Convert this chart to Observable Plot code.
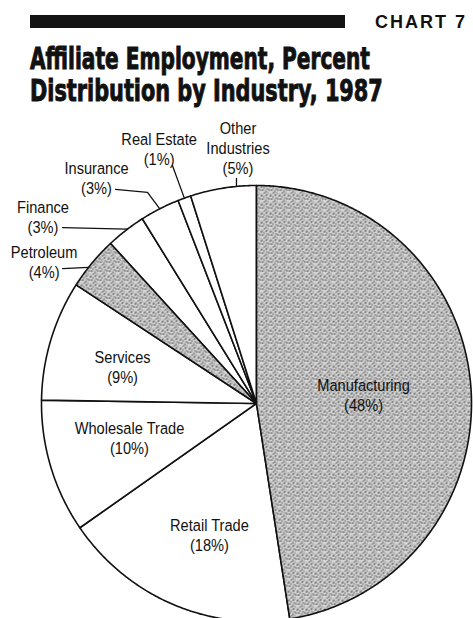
<!DOCTYPE html>
<html>
<head>
<meta charset="utf-8">
<script src="https://cdn.jsdelivr.net/npm/d3@7"></script>
<script src="https://cdn.jsdelivr.net/npm/@observablehq/plot@0.6"></script>
<style>
  html, body { margin: 0; padding: 0; background: #fff; }
  body { width: 473px; height: 618px; overflow: hidden; position: relative; }
  #chart, #header { position: absolute; left: 0; top: 0; }
  #chart svg { display: block; }
  #header { pointer-events: none; }
</style>
</head>
<body>
<div id="chart"></div>
<svg id="header" width="473" height="618" xmlns="http://www.w3.org/2000/svg">
  <rect x="30" y="15" width="315" height="13" fill="#141414"></rect>
  <text id="chartno" x="467" y="28" text-anchor="end" letter-spacing="2"
        font-family="'Liberation Sans', Arial, Helvetica, sans-serif" font-weight="bold" font-size="18" fill="#111">CHART 7</text>
  <g transform="translate(30,69)"><text class="title" data-w="340" x="0" y="0" stroke="#111" stroke-width="0.7"
        font-family="'Liberation Sans Narrow', 'Arial Narrow', 'DejaVu Sans Condensed', sans-serif" font-weight="bold" font-size="30" fill="#111">Affiliate Employment, Percent</text></g>
  <g transform="translate(30,101)"><text class="title" data-w="353" x="0" y="0" stroke="#111" stroke-width="0.7"
        font-family="'Liberation Sans Narrow', 'Arial Narrow', 'DejaVu Sans Condensed', sans-serif" font-weight="bold" font-size="30" fill="#111">Distribution by Industry, 1987</text></g>
</svg>
<script>
// ---- data ----
const industries = ["Manufacturing", "Retail Trade", "Wholesale Trade", "Services", "Petroleum", "Finance", "Insurance", "Real Estate", "Other Industries"];
const percents = [48, 18, 10, 9, 4, 3, 3, 1, 5];
const labelNames = ["Manufacturing", "Retail Trade", "Wholesale Trade", "Services", "Petroleum", "Finance", "Insurance", "Real Estate", "Other\nIndustries"];
const shadedIndustries = ["Manufacturing", "Petroleum"];

// ---- layout (pie units, radius = 1) ----
const labelPos = {
  "Manufacturing": [0.498, 0.041],
  "Retail Trade": [-0.219, -0.601],
  "Wholesale Trade": [-0.591, -0.156],
  "Services": [-0.623, 0.170],
  "Petroleum": [-0.988, 0.651],
  "Finance": [-0.993, 0.858],
  "Insurance": [-0.744, 1.037],
  "Real Estate": [-0.453, 1.170],
  "Other Industries": [-0.086, 1.174]
};
const leaderLayout = {
  "Petroleum": {from: [[-0.902, 0.619]], at: 0.4},
  "Finance": {from: [[-0.902, 0.807]], at: 0.55},
  "Insurance": {from: [[-0.656, 0.982], [-0.507, 0.968]], at: 0.5},
  "Real Estate": {from: [[-0.391, 1.092]], at: 0.5},
  "Other Industries": {from: [[-0.093, 1.032]], at: 0.7}
};

const rows = industries.map((name, i) => ({name, pct: percents[i], label: labelNames[i]}));
const arcs = d3.pie().sort(null).value(d => d.pct)(rows);

const slicePts = [];
arcs.forEach(a => {
  const name = a.data.name;
  const shaded = shadedIndustries.includes(name);
  const n = Math.max(2, Math.ceil((a.endAngle - a.startAngle) / (Math.PI / 360)));
  slicePts.push({name, shaded, x: 0, y: 0});
  for (let i = 0; i <= n; i++) {
    const t = a.startAngle + (a.endAngle - a.startAngle) * i / n;
    slicePts.push({name, shaded, x: Math.sin(t), y: Math.cos(t)});
  }
  slicePts.push({name, shaded, x: 0, y: 0});
});

const leaderPts = [];
arcs.forEach(a => {
  const name = a.data.name;
  const L = leaderLayout[name];
  if (!L) return;
  L.from.forEach(([x, y]) => leaderPts.push({name, x, y}));
  const t = a.startAngle + (a.endAngle - a.startAngle) * L.at;
  leaderPts.push({name, x: Math.sin(t), y: Math.cos(t)});
});

const labelRows = rows.map(d => ({
  text: `${d.label}\n(${d.pct}%)`,
  x: labelPos[d.name][0],
  y: labelPos[d.name][1]
}));

const font = "'Liberation Sans', Arial, Helvetica, sans-serif";

const svg = Plot.plot({
  width: 473,
  height: 618,
  x: {domain: [-1, 1], range: [41, 471], axis: null},
  y: {domain: [-1, 1], range: [621, 185], axis: null},
  style: {background: "white", color: "#111", fontFamily: font},
  marks: [
    Plot.line(slicePts.filter(d => !d.shaded), {x: "x", y: "y", z: "name", fill: "white", stroke: "#111", strokeWidth: 1.6, strokeLinejoin: "round"}),
    Plot.line(slicePts.filter(d => d.shaded), {x: "x", y: "y", z: "name", fill: "url(#stipple)", stroke: "#111", strokeWidth: 1.6, strokeLinejoin: "round"}),
    Plot.line(leaderPts, {x: "x", y: "y", z: "name", stroke: "#111", strokeWidth: 1.3}),
    Plot.text(labelRows, {x: "x", y: "y", text: "text", fontSize: 17, lineHeight: 1.2, fill: "#111", fontFamily: font})
  ]
});

// narrow the label glyphs horizontally (reference uses a narrow face)
d3.select(svg).selectAll("g[aria-label=text] text").each(function() {
  const tr = this.getAttribute("transform") || "";
  this.setAttribute("transform", tr + " scale(0.86,1)");
});

// stipple texture
const defs = d3.select(svg).insert("defs", ":first-child");
const pat = defs.append("pattern").attr("id", "stipple").attr("patternUnits", "userSpaceOnUse").attr("width", 9).attr("height", 9);
pat.append("rect").attr("width", 9).attr("height", 9).attr("fill", "#c6c6c6");
[[0,0,2,1,"#4e4e4e"],[4,1,1,2,"#777"],[7,0,1,1,"#444"],[2,3,2,1,"#666"],[6,3,1,1,"#888"],
 [0,5,1,2,"#707070"],[4,5,2,1,"#4a4a4a"],[8,6,1,1,"#606060"],[2,7,1,1,"#555"],[5,8,2,1,"#7a7a7a"],
 [1,2,1,1,"#fff"],[6,6,1,1,"#fff"],[3,4,1,1,"#fff"],[8,2,1,1,"#fff"],[0,8,1,1,"#fff"]]
  .forEach(([x, y, w, h, c]) => pat.append("rect").attr("x", x).attr("y", y).attr("width", w).attr("height", h).attr("fill", c));

document.getElementById("chart").appendChild(svg);

// fit title lines: true width via font size, height restored via vertical scale
document.querySelectorAll("#header text.title").forEach(t => {
  const target = +t.getAttribute("data-w");
  const base = 30;
  const w = t.getComputedTextLength();
  const fs = base * target / w;
  t.setAttribute("font-size", fs.toFixed(2));
  t.setAttribute("transform", `scale(1,${(base / fs).toFixed(4)})`);
});
</script>
</body>
</html>
